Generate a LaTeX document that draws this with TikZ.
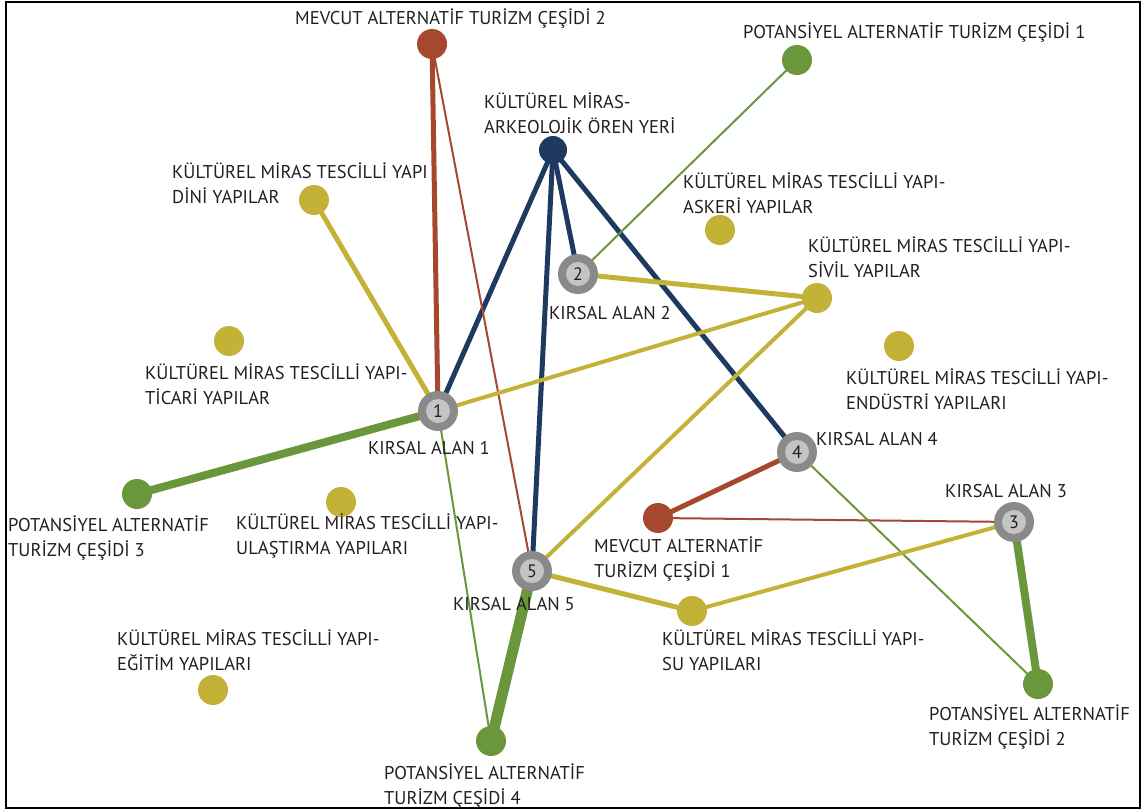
\documentclass[tikz,border=0pt]{standalone}
\usepackage{fontspec}
\setmainfont{PT Sans}
\usetikzlibrary{backgrounds}
\definecolor{navy}{RGB}{31,58,96}
\definecolor{brown}{RGB}{165,72,45}
\definecolor{grn}{RGB}{106,150,60}
\definecolor{olive}{RGB}{196,178,56}
\definecolor{txt}{RGB}{35,31,32}
\definecolor{gout}{RGB}{138,138,138}
\definecolor{gin}{RGB}{196,196,196}
\tikzset{
  area/.style={circle,fill=gout,minimum size=40pt,inner sep=0pt},
  areain/.style={circle,fill=gin,minimum size=24pt,inner sep=0pt,text=txt,font=\fontsize{18}{20}\selectfont},
  dot/.style={circle,minimum size=30pt,inner sep=0pt},
  navydot/.style={dot,fill=navy,minimum size=28pt},
  browndot/.style={dot,fill=brown},
  grndot/.style={dot,fill=grn},
  olivedot/.style={dot,fill=olive},
  lbl/.style={anchor=base west,inner sep=0pt,text=txt,align=left,font=\fontsize{18.5}{24.5}\selectfont},
  ln/.style={line width=#1,line cap=round},
}
\begin{document}
\begin{tikzpicture}[x=1pt,y=-1pt]
\useasboundingbox (0,0) rectangle (1142,811);
\draw[line width=2pt,black] (6,2) rectangle (1140,808);
% areas
\node[area] (k1) at (438,411) {}; \node[areain] at (k1) {1};
\node[area] (k2) at (578,274) {}; \node[areain] at (k2) {2};
\node[area] (k3) at (1014,522) {}; \node[areain] at (k3) {3};
\node[area] (k4) at (797,452) {}; \node[areain] at (k4) {4};
\node[area] (k5) at (532,571) {}; \node[areain] at (k5) {5};
% dots
\node[navydot] (ark) at (553,150) {};
\node[browndot] (mev2) at (432,44) {};
\node[browndot] (mev1) at (658,518) {};
\node[grndot] (pot1) at (797,60) {};
\node[grndot] (pot2) at (1038,684) {};
\node[grndot] (pot3) at (137,494) {};
\node[grndot] (pot4) at (491,741) {};
\node[olivedot] (dini) at (314,200) {};
\node[olivedot] (askeri) at (720,230) {};
\node[olivedot] (sivil) at (817,298) {};
\node[olivedot] (ticari) at (229,341) {};
\node[olivedot] (endustri) at (899,346) {};
\node[olivedot] (ulastirma) at (341,502) {};
\node[olivedot] (egitim) at (213,690) {};
\node[olivedot] (su) at (692,611) {};
% edges
\begin{scope}[on background layer]
\draw[ln=5pt,navy] (ark.center) -- (k1.center);
\draw[ln=5pt,navy] (ark.center) -- (k2.center);
\draw[ln=5pt,navy] (ark.center) -- (k4.center);
\draw[ln=5pt,navy] (ark.center) -- (k5.center);
\draw[ln=5pt,brown] (mev2.center) -- (k1.center);
\draw[ln=2pt,brown] (mev2.center) -- (k5.center);
\draw[ln=5pt,brown] (mev1.center) -- (k4.center);
\draw[ln=2pt,brown] (mev1.center) -- (k3.center);
\draw[ln=2pt,grn] (pot1.center) -- (k2.center);
\draw[ln=8pt,grn] (pot3.center) -- (k1.center);
\draw[ln=2pt,grn] (k1.center) -- (pot4.center);
\draw[ln=11pt,grn] (k5.center) -- (pot4.center);
\draw[ln=2pt,grn] (k4.center) -- (pot2.center);
\draw[ln=8pt,grn] (k3.center) -- (pot2.center);
\draw[ln=5pt,olive] (dini.center) -- (k1.center);
\draw[ln=4pt,olive] (k1.center) -- (sivil.center);
\draw[ln=5pt,olive] (k2.center) -- (sivil.center);
\draw[ln=4pt,olive] (sivil.center) -- (k5.center);
\draw[ln=5pt,olive] (k5.center) -- (su.center);
\draw[ln=4pt,olive] (su.center) -- (k3.center);
\end{scope}
% labels (two-line labels: base = last line)
\node[lbl] (lmev2) at (295,24) {MEVCUT ALTERNATİF TURİZM ÇEŞİDİ 2};
\node[lbl] (lpot1) at (743,38) {POTANSİYEL ALTERNATİF TURİZM ÇEŞİDİ 1};
\node[lbl] (lark) at (484,133) {KÜLTÜREL MİRAS-\\ARKEOLOJİK ÖREN YERİ};
\node[lbl] (ldini) at (172,203) {KÜLTÜREL MİRAS TESCİLLİ YAPI\\DİNİ YAPILAR};
\node[lbl] (lask) at (683,213) {KÜLTÜREL MİRAS TESCİLLİ YAPI-\\ASKERİ YAPILAR};
\node[lbl] (lsiv) at (808,277) {KÜLTÜREL MİRAS TESCİLLİ YAPI-\\SİVİL YAPILAR};
\node[lbl] (lk2) at (549,319) {KIRSAL ALAN 2};
\node[lbl] (ltic) at (145,404) {KÜLTÜREL MİRAS TESCİLLİ YAPI-\\TİCARİ YAPILAR};
\node[lbl] (lend) at (846,409) {KÜLTÜREL MİRAS TESCİLLİ YAPI-\\ENDÜSTRİ YAPILARI};
\node[lbl] (lk1) at (368,454) {KIRSAL ALAN 1};
\node[lbl] (lk4) at (816,445) {KIRSAL ALAN 4};
\node[lbl] (lpot3) at (8,556) {POTANSİYEL ALTERNATİF\\TURİZM ÇEŞİDİ 3};
\node[lbl] (lula) at (236,554) {KÜLTÜREL MİRAS TESCİLLİ YAPI-\\ULAŞTIRMA YAPILARI};
\node[lbl] (lk3) at (945,497) {KIRSAL ALAN 3};
\node[lbl] (lmev1) at (594,577) {MEVCUT ALTERNATİF\\TURİZM ÇEŞİDİ 1};
\node[lbl] (lk5) at (453,610) {KIRSAL ALAN 5};
\node[lbl] (lsu) at (662,670) {KÜLTÜREL MİRAS TESCİLLİ YAPI-\\SU YAPILARI};
\node[lbl] (legi) at (117,670) {KÜLTÜREL MİRAS TESCİLLİ YAPI-\\EĞİTİM YAPILARI};
\node[lbl] (lpot2) at (929,745) {POTANSİYEL ALTERNATİF\\TURİZM ÇEŞİDİ 2};
\node[lbl] (lpot4) at (384,804) {POTANSİYEL ALTERNATİF\\TURİZM ÇEŞİDİ 4};
\end{tikzpicture}
\end{document}
